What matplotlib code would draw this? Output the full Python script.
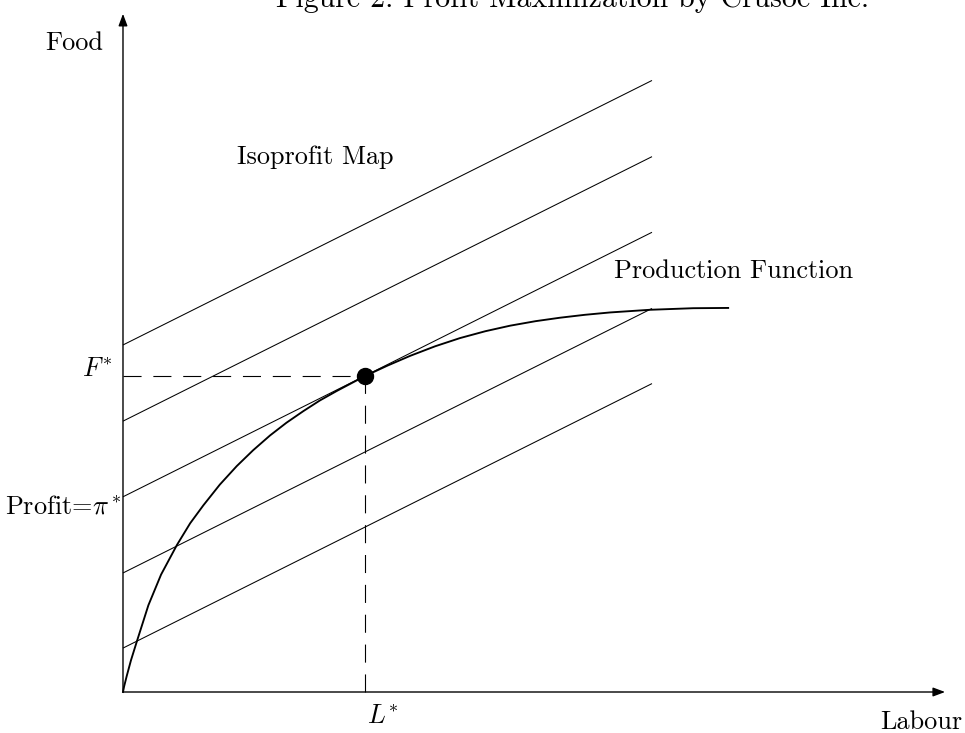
import matplotlib
matplotlib.use("Agg")
import matplotlib.pyplot as plt
import numpy as np

plt.rcParams["font.family"] = ["cmr10", "DejaVu Serif"]
plt.rcParams["mathtext.fontset"] = "cm"
plt.rcParams["axes.formatter.use_mathtext"] = True
plt.rcParams["lines.scale_dashes"] = False

# Production function F(L), read point by point
labour = [0.0, 0.02, 0.07, 0.151, 0.26, 0.48, 0.72, 1.02, 1.27, 1.52, 1.83, 2.15,
          2.46, 2.78, 3.09, 3.41, 3.72, 4.04, 4.57, 5.00, 5.43, 5.90, 6.37, 6.85,
          7.32, 7.80, 8.26, 8.73, 9.21, 9.96, 10.78, 11.44]
food = [0.0, 0.10, 0.30, 0.60, 0.95, 1.64, 2.22, 2.78, 3.19, 3.53, 3.92, 4.27,
        4.57, 4.85, 5.09, 5.31, 5.51, 5.69, 5.97, 6.17, 6.355, 6.535, 6.69, 6.82,
        6.925, 7.01, 7.075, 7.13, 7.175, 7.225, 7.255, 7.26]

# Isoprofit lines: Food = intercept + wage * Labour
iso_intercepts = [6.56, 5.12, 3.69, 2.25, 0.83]
iso_slope = 0.5
iso_labour_range = [0.0, 10.0]

# Optimum
L_star = 4.57
F_star = 5.97

fig = plt.figure(figsize=(9.65, 7.33), dpi=100)
ax = fig.add_axes([0, 0, 1, 1])
ax.set_xlim(-2.325, 15.917)
ax.set_ylim(-0.775, 13.081)
ax.axis("off")

fs = 18.9

# Axes with arrowheads
arrow = dict(arrowstyle="-|>,head_length=0.4,head_width=0.15", lw=1.0, color="black",
             mutation_scale=18, shrinkA=0, shrinkB=0)
ax.annotate("", xy=(15.54, 0), xytext=(0, 0), arrowprops=arrow)
ax.annotate("", xy=(0, 12.82), xytext=(0, 0), arrowprops=arrow)

# Isoprofit map
L_iso = np.array(iso_labour_range)
for c in iso_intercepts:
    ax.plot(L_iso, c + iso_slope * L_iso, color="black", lw=0.75, solid_capstyle="butt")

# Production function
ax.plot(labour, food, color="black", lw=1.35, solid_joinstyle="round")

# Dashed guides to the optimum
ax.plot([0, L_star], [F_star, F_star], color="black", lw=0.8, dashes=(13, 8.5))
ax.plot([L_star, L_star], [0, F_star], color="black", lw=0.8, dashes=(13, 8.5))
ax.plot([L_star], [F_star], "o", color="black", markersize=11.5, zorder=5)

# Labels
ax.text(8.49, 12.95, "Figure 2: Profit Maximization by Crusoe Inc.", fontsize=21.5,
        ha="center", va="baseline")
ax.text(-0.38, 12.14, "Food", fontsize=fs, ha="right", va="baseline")
ax.text(15.86, -0.70, "Labour", fontsize=fs, ha="right", va="baseline")
ax.text(L_star + 0.04, -0.59, r"$L^{\!*}$", fontsize=fs, ha="left", va="baseline")
ax.text(-0.19, F_star, r"$F^{\!*}$", fontsize=fs, ha="right", va="baseline")
ax.text(-0.02, iso_intercepts[2] - 0.31, r"Profit=$\pi^*$", fontsize=fs, ha="right",
        va="baseline")
ax.text(2.155, 9.98, "Isoprofit Map", fontsize=fs, ha="left", va="baseline")
ax.text(13.80, 7.83, "Production Function", fontsize=fs, ha="right", va="baseline")

fig.savefig("out.png", dpi=100)
